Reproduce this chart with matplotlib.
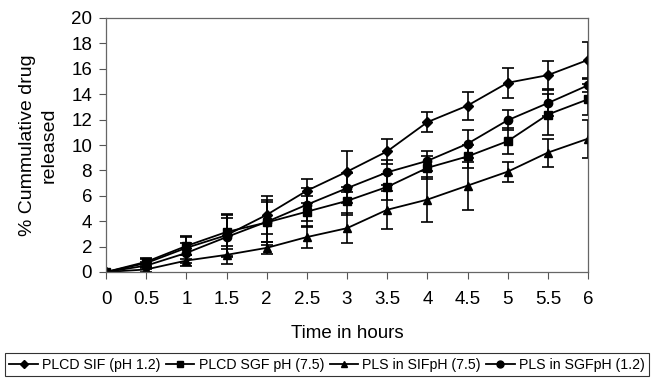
import matplotlib
matplotlib.use("Agg")
import matplotlib.pyplot as plt
from matplotlib.lines import Line2D

plt.rcParams['font.family'] = ['Liberation Sans', 'DejaVu Sans']

time_h = [0, 0.5, 1, 1.5, 2, 2.5, 3, 3.5, 4, 4.5, 5, 5.5, 6]

plcd_sif = [0, 0.7, 1.9, 2.9, 4.5, 6.4, 7.9, 9.5, 11.8, 13.1, 14.9, 15.5, 16.7]
plcd_sif_err = [0, 0.3, 0.9, 1.7, 1.5, 0.95, 1.6, 1.0, 0.8, 1.1, 1.2, 1.1, 1.4]

plcd_sgf = [0, 0.8, 2.05, 3.15, 3.9, 4.75, 5.6, 6.7, 8.2, 9.1, 10.3, 12.4, 13.6]
plcd_sgf_err = [0, 0.3, 0.7, 1.3, 1.8, 1.2, 1.1, 1.0, 0.9, 0.9, 1.0, 1.6, 1.2]

pls_sif = [0, 0.2, 0.9, 1.35, 1.9, 2.75, 3.45, 4.9, 5.7, 6.8, 7.9, 9.4, 10.5]
pls_sif_err = [0, 0.2, 0.4, 0.7, 0.5, 0.85, 1.2, 1.5, 1.8, 1.9, 0.8, 1.1, 1.5]

pls_sgf = [0, 0.5, 1.5, 2.75, 3.95, 5.3, 6.6, 7.85, 8.75, 10.1, 11.95, 13.3, 14.7]
pls_sgf_err = [0, 0.3, 0.8, 1.5, 1.6, 1.3, 1.2, 1.0, 0.8, 1.1, 0.8, 1.0, 0.5]

labels = ['PLCD SIF (pH 1.2)', 'PLCD SGF pH (7.5)', 'PLS in SIFpH (7.5)', 'PLS in SGFpH (1.2)']

fig = plt.figure(figsize=(6.54, 3.80), dpi=100)
ax = fig.add_axes([106/654, 1-272/380, (588-106)/654, (272-18)/380])

series = [
    (plcd_sif, plcd_sif_err, 'D', 5),
    (plcd_sgf, plcd_sgf_err, 's', 6),
    (pls_sif, pls_sif_err, '^', 6),
    (pls_sgf, pls_sgf_err, 'o', 6),
]
handles = []
for (y, e, m, ms), lab in zip(series, labels):
    ax.errorbar(time_h, y, yerr=e, color='black', marker=m, markersize=ms,
                linewidth=1.3, elinewidth=1.2, capsize=4, capthick=1.2)
    handles.append(Line2D([], [], color='black', marker=m, markersize=ms - 1,
                          linewidth=1.3))

ax.set_xlim(0, 6)
ax.set_ylim(0, 20)
ax.set_xticks(time_h)
ax.set_xticklabels(['0', '0.5', '1', '1.5', '2', '2.5', '3', '3.5', '4', '4.5', '5', '5.5', '6'])
ax.set_yticks(range(0, 21, 2))
ax.tick_params(axis='both', labelsize=13.5, direction='out', length=5, width=0.8, color='#555555')
ax.tick_params(axis='y', pad=5)
ax.tick_params(axis='x', pad=9)
for s in ax.spines.values():
    s.set_color('#666666')
    s.set_linewidth(0.9)

ax.set_xlabel('Time in hours', fontsize=13.5, labelpad=12)
ax.set_ylabel('% Cummulative drug\nreleased', fontsize=14, labelpad=10, linespacing=1.3)

leg = fig.legend(handles=handles, labels=labels, loc='lower center',
                 bbox_to_anchor=(0.5, 0.0), ncol=4, fontsize=10.2, frameon=True,
                 fancybox=False, edgecolor='black', handlelength=2.0,
                 handletextpad=0.3, columnspacing=0.4, borderpad=0.3,
                 borderaxespad=0.3)
leg.get_frame().set_linewidth(0.8)

fig.savefig('out.png', dpi=100)
